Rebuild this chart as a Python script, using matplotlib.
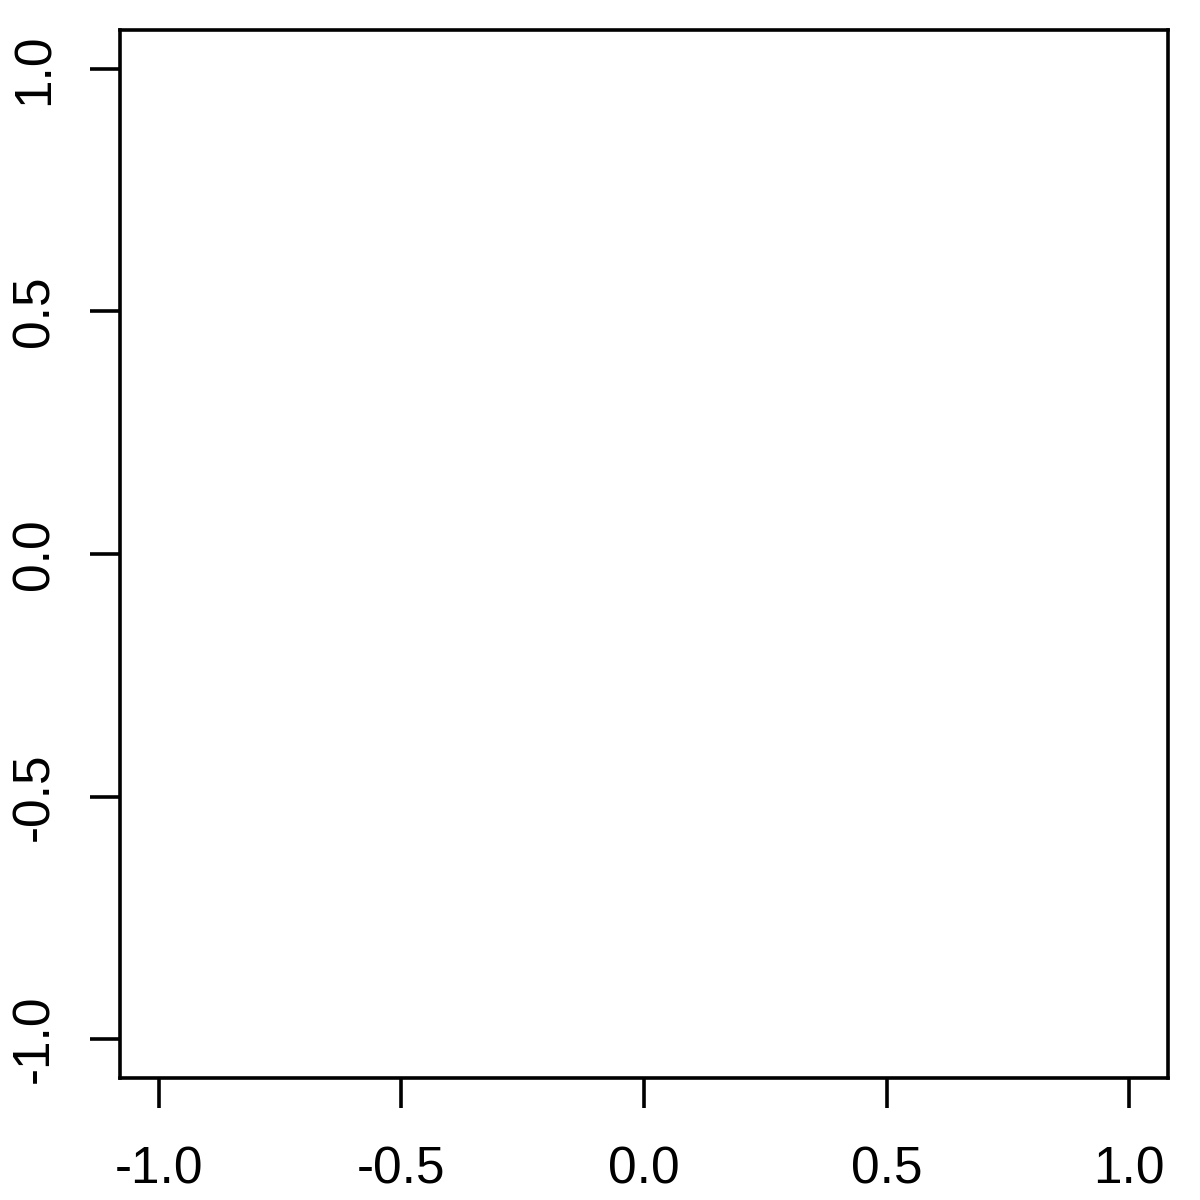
import matplotlib
matplotlib.use("Agg")
import matplotlib.pyplot as plt

x_ticks = [-1.0, -0.5, 0.0, 0.5, 1.0]
y_ticks = [-1.0, -0.5, 0.0, 0.5, 1.0]
x_labels = ["-1.0", "-0.5", "0.0", "0.5", "1.0"]
y_labels = ["-1.0", "-0.5", "0.0", "0.5", "1.0"]

plt.rcParams['font.family'] = ['Liberation Sans', 'DejaVu Sans']

fig = plt.figure(figsize=(12, 12), dpi=100)
ax = fig.add_axes([120/1200, 122/1200, 1048/1200, 1048/1200])
ax.set_xlim(-1.08, 1.08)
ax.set_ylim(-1.08, 1.08)
for s in ax.spines.values():
    s.set_linewidth(2.6)
ax.set_xticks(x_ticks)
ax.set_xticklabels(x_labels)
ax.set_yticks(y_ticks)
ax.set_yticklabels(y_labels, rotation=90, va='center')
ax.tick_params(axis='both', length=21.6, width=2.6, labelsize=37, direction='out')
ax.tick_params(axis='x', pad=27)
ax.tick_params(axis='y', pad=22)
fig.savefig("out.png", dpi=100, facecolor='white')
